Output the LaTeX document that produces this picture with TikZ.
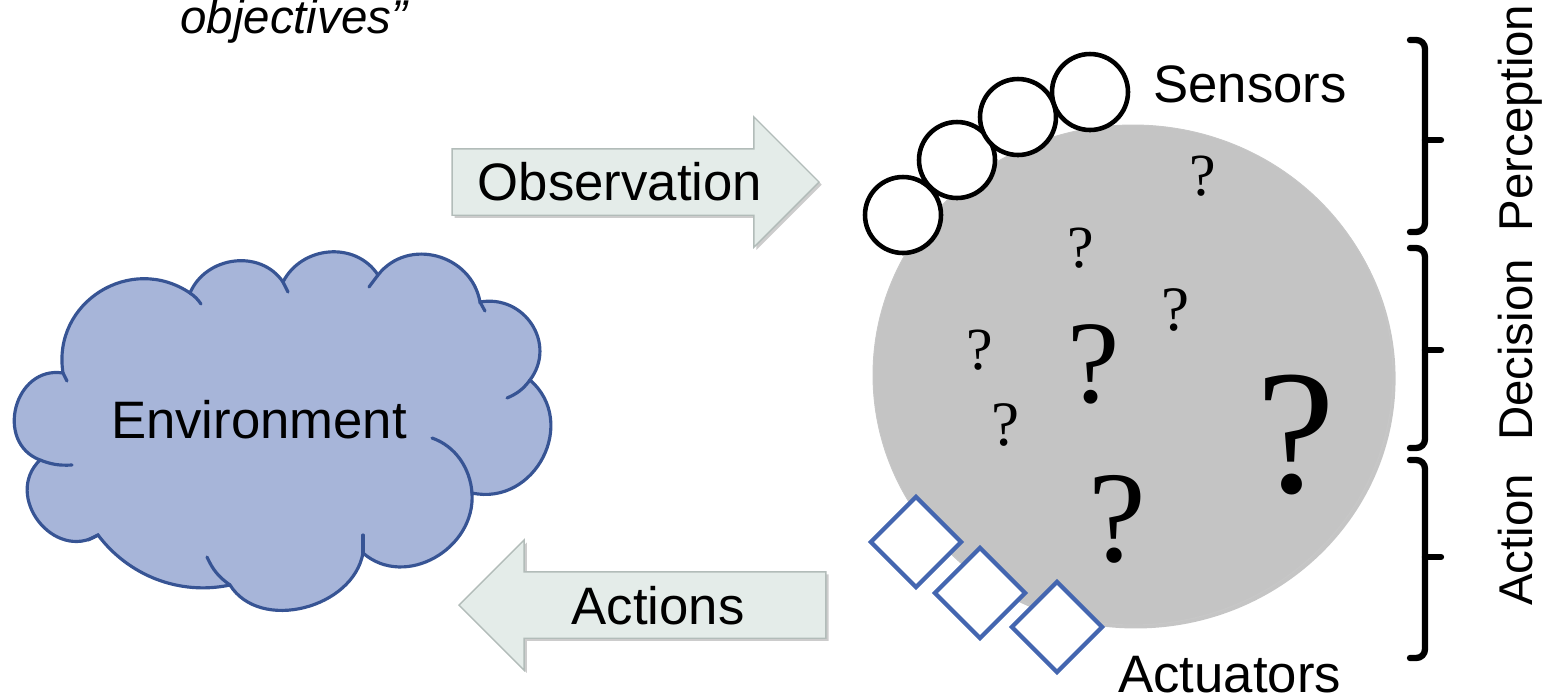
\documentclass[tikz,border=0pt]{standalone}
\usepackage{fontspec}
\setmainfont{Liberation Sans}
\newfontfamily\qmark{Liberation Serif}
\usetikzlibrary{shapes.geometric,shapes.arrows,shadows}
\definecolor{cloudfill}{RGB}{167,181,217}
\definecolor{cloudedge}{RGB}{55,84,148}
\definecolor{agentgray}{RGB}{196,196,196}
\definecolor{arrowfill}{RGB}{228,236,233}
\definecolor{arrowedge}{RGB}{178,188,185}
\definecolor{actblue}{RGB}{68,102,176}

\begin{document}
\begin{tikzpicture}[x=0.02cm, y=-0.02cm,
    lbl/.style={font=\fontsize{30pt}{36pt}\selectfont, inner sep=0pt},
    side/.style={font=\fontsize{27pt}{32pt}\selectfont, rotate=90, anchor=base, inner sep=0pt},
    qm/.style={font=\qmark\fontsize{#1}{#1}\selectfont, inner sep=0pt},
    sensor/.style={circle, draw=black, fill=white, line width=2.6pt, minimum size=1.52cm, inner sep=0pt},
    actuator/.style={diamond, aspect=1, draw=actblue, fill=white, line width=2.4pt, minimum width=1.84cm, minimum height=1.84cm, inner sep=0pt},
    blockarrow/.style={single arrow, draw=arrowedge, fill=arrowfill, line width=0.8pt, inner xsep=0pt, inner ysep=0.65cm, single arrow head extend=0.64cm, minimum height=7.34cm, drop shadow={shadow xshift=1.5pt, shadow yshift=-1.5pt, fill=black!40}},
    brace/.style={line width=3.6pt, line cap=round, rounded corners=5pt},
    curl/.style={draw=cloudedge, line width=1.8pt, line cap=round}]
  \useasboundingbox (0,0) rectangle (1542,698);

  % the environment cloud, one puff between two notches
  \coordinate (p1) at (63,373);
  \coordinate (p2) at (190,293);
  \coordinate (p3) at (283,282);
  \coordinate (p4) at (378,275);
  \coordinate (p5) at (480,302);
  \coordinate (p6) at (530,380);
  \coordinate (p7) at (472,493);
  \coordinate (p8) at (363,553);
  \coordinate (p9) at (230,585);
  \coordinate (p10) at (98,535);
  \coordinate (p11) at (40,460);
  \filldraw[fill=cloudfill, draw=cloudedge, line width=1.8pt]
    (p1) to[out=99,in=146,looseness=1.22] (p2)
    to[out=67,in=124,looseness=1.1] (p3)
    to[out=63,in=123,looseness=1.1] (p4)
    to[out=52,in=100,looseness=1.18] (p5)
    to[out=10,in=53,looseness=1.25] (p6)
    to[out=-41,in=-12,looseness=1.3] (p7)
    to[out=-86,in=-41,looseness=1.15] (p8)
    to[out=-100,in=-58,looseness=1.05] (p9)
    to[out=192,in=-53,looseness=0.93] (p10)
    to[out=-148,in=224,looseness=1.4] (p11)
    to[out=159,in=171,looseness=1.4] (p1) -- cycle;
  \draw[curl] (p1) -- (67,381);
  \draw[curl] (p2) to[bend left=10] (201,304);
  \draw[curl] (p3) -- (288,292);
  \draw[curl] (p4) -- (369,287);
  \draw[curl] (p5) -- (485,311);
  \draw[curl] (p6) to[bend left=15] (507,398);
  \draw[curl] (p7) to[out=94,in=-19,looseness=0.93] (432,438);
  \draw[curl] (p8) -- (363,535);
  \draw[curl] (p9) to[bend left=15] (207,557);
  \draw[curl] (p10) -- (88,540);
  \draw[curl] (p11) to[bend right=12] (72,465);
  \node[lbl, anchor=base] (env) at (259,438) {Environment};

  % block arrows
  \node[blockarrow, anchor=tip] (obsarrow) at (820,182) {};
  \node[lbl, anchor=base] (obs) at (620,200) {Observation};
  \node[blockarrow, shape border rotate=180, anchor=tip] (actarrow) at (458,605) {};
  \node[lbl, anchor=base] (act) at (658,624) {Actions};

  % the agent
  \node[ellipse, fill=agentgray, draw=black!22, line width=0.6pt, minimum width=10.4cm, minimum height=10cm, inner sep=0pt, drop shadow={shadow xshift=1.5pt, shadow yshift=-2pt, fill=black!45}] (agent) at (1133,375) {};
  \node[qm=34pt] (q1) at (1203,176) {?};
  \node[qm=34pt] (q2) at (1081,248) {?};
  \node[qm=36pt] (q3) at (1176,310) {?};
  \node[qm=34pt] (q4) at (980,350) {?};
  \node[qm=67pt] (q5) at (1094,364) {?};
  \node[qm=36pt] (q6) at (1006,425) {?};
  \node[qm=74pt] (q7) at (1117,519) {?};
  \node[qm=101pt] (q8) at (1296,435) {?};

  \node[sensor] (s1) at (903,215) {};
  \node[sensor] (s2) at (957,160) {};
  \node[sensor] (s3) at (1018,117) {};
  \node[sensor] (s4) at (1090,92) {};
  \node[lbl, anchor=base west] (sens) at (1153,102) {Sensors};

  \node[actuator] (a1) at (916,542) {};
  \node[actuator] (a2) at (980,593) {};
  \node[actuator] (a3) at (1057,627) {};
  \node[lbl, anchor=base west] (actu) at (1118,692) {Actuators};

  % braces on the right
  \foreach \t/\m/\b in {40/140/232, 248/350/448, 460/557/658}{
    \draw[brace] (1410,\t) -- (1425,\t) -- (1425,\b) -- (1410,\b);
    \draw[brace] (1425,\m) -- (1441,\m);
  }
  \node[side] (perc) at (1532,118) {Perception};
  \node[side] (deci) at (1532,350) {Decision};
  \node[side] (acti) at (1532,540) {Action};

  \node[font=\itshape\fontsize{27pt}{32pt}\selectfont, anchor=base west, inner sep=0pt] (obj) at (180,33) {objectives”};
\end{tikzpicture}
\end{document}
